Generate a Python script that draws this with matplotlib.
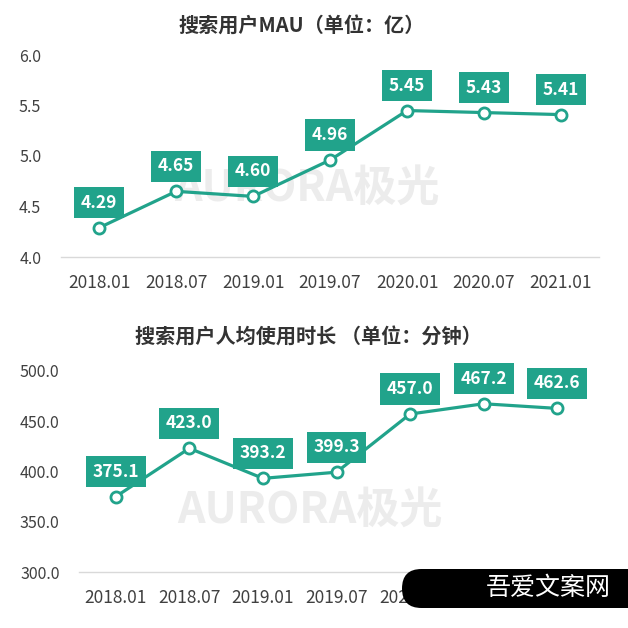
import matplotlib
matplotlib.use("Agg")
import matplotlib.pyplot as plt
from matplotlib.patches import FancyBboxPatch

plt.rcParams['font.family'] = ['Noto Sans CJK SC', 'DejaVu Sans']

categories = ["2018.01", "2018.07", "2019.01", "2019.07", "2020.01", "2020.07", "2021.01"]
mau = [4.29, 4.65, 4.60, 4.96, 5.45, 5.43, 5.41]
mau_labels = ["4.29", "4.65", "4.60", "4.96", "5.45", "5.43", "5.41"]
duration = [375.1, 423.0, 393.2, 399.3, 457.0, 467.2, 462.6]
duration_labels = ["375.1", "423.0", "393.2", "399.3", "457.0", "467.2", "462.6"]
mau_ticks = [4.0, 4.5, 5.0, 5.5, 6.0]
dur_ticks = [300.0, 350.0, 400.0, 450.0, 500.0]

TEAL = '#21a38b'
TICK = '#404040'
W = 628.0

fig = plt.figure(figsize=(6.28, 6.28), dpi=100)

def make_panel(rect, values, labels, yticks, title, title_xy, wm_xy):
    ax = fig.add_axes(rect)
    ax.set_facecolor('none')
    x = list(range(len(categories)))
    ax.plot(x, values, color=TEAL, lw=2.3, marker='o', markersize=8,
            markerfacecolor='white', markeredgecolor=TEAL, markeredgewidth=2, zorder=3)
    for xi, v, lab in zip(x, values, labels):
        ax.annotate(lab, (xi, v), xytext=(0, 25), textcoords='offset pixels',
                    ha='center', va='center', color='white', fontsize=12.5,
                    fontweight='bold', zorder=5,
                    bbox=dict(boxstyle='square,pad=0.38', fc=TEAL, ec='none'))
    ax.set_xlim(-0.5, len(categories) - 0.5)
    ax.set_ylim(yticks[0], yticks[-1])
    ax.set_xticks(x)
    ax.set_xticklabels(categories)
    ax.set_yticks(yticks)
    ax.set_yticklabels([f"{t:.1f}" for t in yticks])
    for s in ['top', 'right', 'left']:
        ax.spines[s].set_visible(False)
    ax.spines['bottom'].set_color('#d9d9d9')
    ax.spines['bottom'].set_linewidth(1)
    ax.tick_params(axis='x', length=0, pad=12, labelsize=12.5, labelcolor=TICK)
    ax.tick_params(axis='y', length=0, pad=14, labelsize=11.5, labelcolor=TICK)
    fig.text(title_xy[0] / W, 1 - title_xy[1] / W, title, ha='center', va='center',
             fontsize=14.5, fontweight='bold', color='#333333')
    ax.text(wm_xy[0] / W, 1 - wm_xy[1] / W, "AURORA极光", transform=fig.transFigure,
            ha='center', va='center', fontsize=31, fontweight='bold',
            color='#ececec', zorder=0)
    return ax

make_panel([60.7 / W, 1 - 257 / W, (599.5 - 60.7) / W, (257 - 55) / W],
           mau, mau_labels, mau_ticks, "搜索用户MAU（单位：亿）", (302, 26), (307, 188))
make_panel([79 / W, 1 - 572.3 / W, (594 - 79) / W, (572.3 - 370.7) / W],
           duration, duration_labels, dur_ticks, "搜索用户人均使用时长 （单位：分钟）", (308, 337), (310, 510))

banner = FancyBboxPatch((402 / W, 1 - 608 / W), 260 / W, 39 / W,
                        boxstyle=f"round,pad=0,rounding_size={19.5 / W}",
                        transform=fig.transFigure, fc='black', ec='none', zorder=10)
fig.patches.append(banner)
fig.text(548 / W, 1 - 588 / W, "吾爱文案网", ha='center', va='center', color='white',
         fontsize=18, fontweight='light', zorder=11)

fig.savefig("out.png", dpi=100)
